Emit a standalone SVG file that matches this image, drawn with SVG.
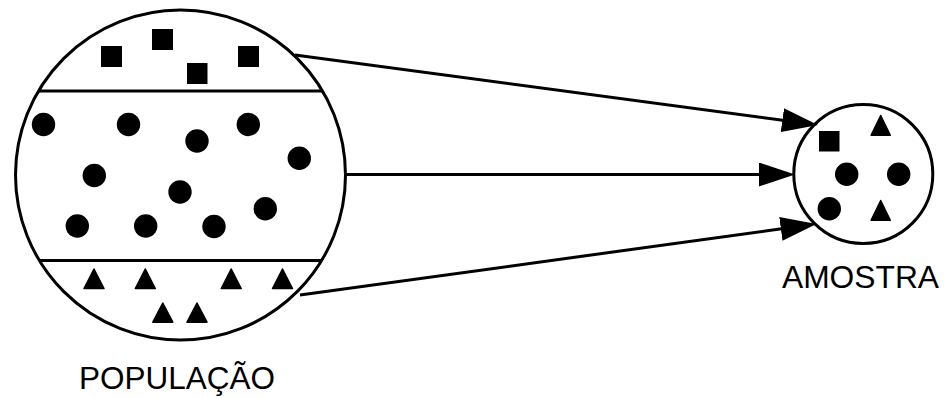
<svg xmlns="http://www.w3.org/2000/svg" width="944" height="398" viewBox="0 0 944 398">
<style>
.outline{fill:#fff;stroke:#000;stroke-width:3}
.div{stroke:#000;stroke-width:3;fill:none}
.dot{fill:#000}
.sq{fill:#000}
.tri{fill:#000;stroke:#000;stroke-width:1.5;stroke-linejoin:round}
.conn{stroke:#000;stroke-width:3;fill:none;marker-end:url(#ah)}
.lbl{font-family:"Liberation Sans",Arial,Helvetica,sans-serif;font-size:31px;fill:#000}
</style>
<defs>
<marker id="ah" markerUnits="userSpaceOnUse" markerWidth="36" markerHeight="24" viewBox="0 0 36 24" refX="6" refY="12" orient="auto">
<path d="M0,0 L36,12 L0,24 z" fill="#000"/>
</marker>
</defs>
<rect width="944" height="398" fill="#fff"/>
<g id="populacao">
<circle class="outline" cx="180.5" cy="175" r="165"/>
<line class="div" x1="38" y1="91" x2="323" y2="91"/>
<line class="div" x1="39" y1="260.5" x2="322" y2="260.5"/>
<rect class="sq" x="101" y="46" width="21" height="21"/>
<rect class="sq" x="152" y="29" width="21" height="21"/>
<rect class="sq" x="187" y="63" width="20.5" height="21"/>
<rect class="sq" x="238" y="46" width="21" height="21"/>
<circle class="dot" cx="43.5" cy="124.5" r="11.7"/>
<circle class="dot" cx="128.5" cy="124.5" r="11.7"/>
<circle class="dot" cx="197" cy="141" r="11.7"/>
<circle class="dot" cx="248.3" cy="124.5" r="11.7"/>
<circle class="dot" cx="299.3" cy="158.3" r="11.7"/>
<circle class="dot" cx="94.3" cy="175.5" r="11.7"/>
<circle class="dot" cx="180" cy="192" r="11.7"/>
<circle class="dot" cx="77.3" cy="226" r="11.7"/>
<circle class="dot" cx="145.7" cy="226" r="11.7"/>
<circle class="dot" cx="214" cy="226.5" r="11.7"/>
<circle class="dot" cx="265.3" cy="208.7" r="11.7"/>
<polygon class="tri" points="94,269 104,288.5 84,288.5"/>
<polygon class="tri" points="145.3,269 155.3,288.5 135.3,288.5"/>
<polygon class="tri" points="231.2,269 241.2,288.5 221.2,288.5"/>
<polygon class="tri" points="282.5,269 292.5,288.5 272.5,288.5"/>
<polygon class="tri" points="162.8,303 172.8,322.2 152.8,322.2"/>
<polygon class="tri" points="197,303 207,322.2 187,322.2"/>
<text class="lbl" x="79" y="389" textLength="196" lengthAdjust="spacingAndGlyphs">POPULAÇÃO</text>
</g>
<g id="amostra">
<circle class="outline" cx="863.3" cy="174" r="69.5"/>
<rect class="sq" x="819" y="131" width="20.5" height="20.5"/>
<polygon class="tri" points="880.7,115.5 890.3,135.3 871.1,135.3"/>
<circle class="dot" cx="846.7" cy="174.3" r="11.7"/>
<circle class="dot" cx="898.7" cy="174.3" r="11.7"/>
<circle class="dot" cx="829.3" cy="208.7" r="11.7"/>
<polygon class="tri" points="880.7,200.5 890.3,220.3 871.1,220.3"/>
<text class="lbl" x="782" y="287.5" textLength="157" lengthAdjust="spacingAndGlyphs">AMOSTRA</text>
</g>
<g id="connectors">
<line class="conn" x1="295" y1="55" x2="788.3" y2="121"/>
<line class="conn" x1="346" y1="174.5" x2="765" y2="174.5"/>
<line class="conn" x1="300" y1="295" x2="786.8" y2="228.1"/>
</g>
</svg>
